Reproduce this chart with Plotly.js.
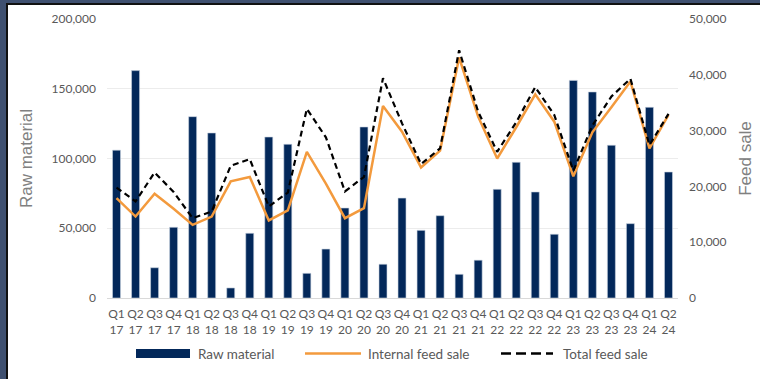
<!DOCTYPE html>
<html>
<head>
<meta charset="utf-8">
<script src="https://cdn.plot.ly/plotly-3.0.1.min.js"></script>
<style>
  html, body { margin: 0; padding: 0; }
  #frame { position: relative; width: 760px; height: 379px; background: #3f5070; overflow: hidden; }
  #panel { position: absolute; left: 6px; top: 3px; width: 760px; height: 380px;
           background: #ffffff; border-left: 2px solid #111; border-top: 2px solid #111; }
  #chart { position: absolute; left: 0; top: 0; width: 760px; height: 379px; }
</style>
</head>
<body>
<div id="frame">
  <div id="panel"></div>
  <div id="chart"></div>
</div>
<script>
// Quarterly volumes, Q1 2017 - Q2 2024
const quarters = ['Q1','Q2','Q3','Q4','Q1','Q2','Q3','Q4','Q1','Q2','Q3','Q4','Q1','Q2','Q3','Q4',
                  'Q1','Q2','Q3','Q4','Q1','Q2','Q3','Q4','Q1','Q2','Q3','Q4','Q1','Q2'];
const years = ['17','17','17','17','18','18','18','18','19','19','19','19','20','20','20','20',
               '21','21','21','21','22','22','22','22','23','23','23','23','24','24'];

const rawMaterial = [106000, 163000, 21700, 50700, 130000, 118300, 7200, 46400, 115400, 110200,
                     17700, 35100, 64500, 122600, 24200, 71600, 48500, 59000, 17000, 27100,
                     77900, 97300, 76000, 45700, 156000, 147700, 109500, 53300, 136700, 90300];

const internalFeedSale = [17900, 14600, 18700, 16000, 13100, 14600, 20900, 21700, 13900, 15700,
                          26200, 20500, 14300, 16100, 34400, 29800, 23400, 26400, 43100, 32500,
                          25000, 30600, 36500, 31600, 21800, 29700, 34200, 38800, 26800, 32800];

const totalFeedSale = [19800, 17300, 22500, 19000, 14300, 15500, 23700, 24900, 16400, 18900,
                       33900, 28800, 19100, 21700, 39400, 31300, 24000, 26800, 44400, 33400,
                       26200, 31500, 37800, 32800, 22800, 30900, 36100, 39300, 27400, 33000];

const categories = quarters.map((q, i) => q + '<br>' + years[i]);

const NAVY = '#03285a';
const ORANGE = '#f39a3d';
const TICK_GREY = '#595959';
const TITLE_GREY = '#808080';
const FONT = 'Lato, "Open Sans", sans-serif';

const traces = [
  {
    type: 'bar', name: 'Raw material', x: categories, y: rawMaterial,
    marker: { color: NAVY, line: { color: '#c9d3e0', width: 0.6 } },
    yaxis: 'y', showlegend: false, hoverinfo: 'x+y'
  },
  {
    type: 'scatter', mode: 'lines', name: 'Internal feed sale', x: categories, y: internalFeedSale,
    line: { color: ORANGE, width: 2.5 }, yaxis: 'y2', showlegend: false
  },
  {
    type: 'scatter', mode: 'lines', name: 'Total feed sale', x: categories, y: totalFeedSale,
    line: { color: '#000000', width: 2.2, dash: '6px,4px' }, yaxis: 'y2', showlegend: false
  }
];

// Plot area geometry (px) used to place the legend row beneath the axis
const M = { l: 107, r: 82, t: 19, b: 81 };
const W = 760, H = 379;
const PW = W - M.l - M.r, PH = H - M.t - M.b;
const px = x => (x - M.l) / PW;
const py = y => (H - M.b - y) / PH;

const legendY = 353.5;
const legendItems = [
  { kind: 'bar',  x0: 136, x1: 190, tx: 196, text: 'Raw material' },
  { kind: 'line', x0: 305, x1: 361, tx: 366, text: 'Internal feed sale' },
  { kind: 'dash', x0: 501, x1: 553, tx: 561, text: 'Total feed sale' }
];

const shapes = legendItems.map(it => {
  if (it.kind === 'bar') {
    return { type: 'rect', xref: 'paper', yref: 'paper',
             x0: px(it.x0), x1: px(it.x1), y0: py(legendY + 4.5), y1: py(legendY - 4.5),
             fillcolor: NAVY, line: { width: 0 } };
  }
  return { type: 'line', xref: 'paper', yref: 'paper',
           x0: px(it.x0), x1: px(it.x1), y0: py(legendY), y1: py(legendY),
           line: it.kind === 'line' ? { color: ORANGE, width: 2.5 }
                                    : { color: '#000000', width: 2.5, dash: '10px,5px' } };
});

const annotations = legendItems.map(it => ({
  xref: 'paper', yref: 'paper', x: px(it.tx), y: py(legendY),
  xanchor: 'left', yanchor: 'middle', showarrow: false, text: it.text,
  font: { family: FONT, size: 13.5, color: TICK_GREY }
}));

const layout = {
  width: W, height: H,
  margin: M,
  paper_bgcolor: 'rgba(0,0,0,0)',
  plot_bgcolor: 'rgba(0,0,0,0)',
  font: { family: FONT, color: TICK_GREY },
  showlegend: false,
  bargap: 0.58,
  xaxis: {
    type: 'category', range: [-0.5, 29.5],
    showgrid: false, showline: true, linecolor: '#d9d9d9', linewidth: 1,
    ticks: '', tickangle: 0, ticklabelstandoff: 5,
    tickfont: { family: FONT, size: 12, color: TICK_GREY },
    fixedrange: true
  },
  yaxis: {
    range: [0, 200000], dtick: 50000, tickformat: ',d',
    showgrid: true, gridcolor: '#ececec', gridwidth: 1,
    zeroline: false, showline: false, ticks: '', ticklabelstandoff: 10,
    tickfont: { family: FONT, size: 12, color: TICK_GREY },
    title: { text: 'Raw material', standoff: 14,
             font: { family: '"Liberation Sans", Arial, sans-serif', size: 17, color: TITLE_GREY } },
    fixedrange: true
  },
  yaxis2: {
    overlaying: 'y', side: 'right',
    range: [0, 50000], dtick: 10000, tickformat: ',d',
    showgrid: false, zeroline: false, showline: false, ticks: '', ticklabelstandoff: 10,
    tickfont: { family: FONT, size: 12, color: TICK_GREY },
    title: { text: 'Feed sale', standoff: 13,
             font: { family: '"Liberation Sans", Arial, sans-serif', size: 17, color: TITLE_GREY } },
    fixedrange: true
  },
  shapes: shapes,
  annotations: annotations
};

Plotly.newPlot('chart', traces, layout, { displayModeBar: false, staticPlot: true });
</script>
</body>
</html>
